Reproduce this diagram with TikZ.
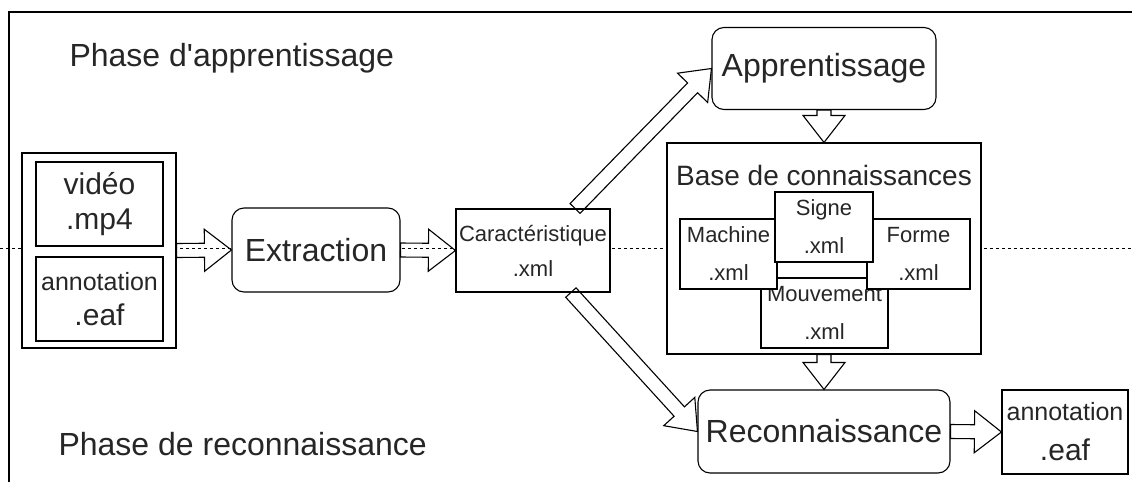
\documentclass[tikz,border=0pt]{standalone}
\usepackage{fontspec}
\setmainfont{Liberation Sans}
\usetikzlibrary{calc}

\newcommand{\bigfont}{\fontsize{32}{38}\selectfont}
\newcommand{\fatarrow}[2]{%
  \draw[fatline] let \p1=(#1), \p2=(#2),
      \n1={atan2(\y2-\y1,\x2-\x1)}, \n2={veclen(\x2-\x1,\y2-\y1)-27} in
    ($(\p1)+(\n1+90:7pt)$) -- ++(\n1:\n2) -- ++(\n1+90:14pt) -- (\p2)
    -- ($(\p1)+(\n1:\n2)+(\n1-90:21pt)$) -- ++(\n1+90:14pt)
    -- ($(\p1)+(\n1-90:7pt)$) -- cycle;}

\begin{document}
\begin{tikzpicture}[x=1pt, y=-1pt,
    box/.style={draw, line width=1.1pt, fill=white, inner sep=0pt, align=center, text=black!85},
    roundbox/.style={box, rounded corners=12pt},
    xmlbox/.style={box, minimum height=70, font=\fontsize{22}{38}\selectfont},
    fatline/.style={draw, line width=1.1pt, line join=miter}]
    \useasboundingbox (0,0) rectangle (1132,482);
    \draw[dashed, line width=0.8pt] (0,248) -- (1132,248);
    \draw[line width=1.6pt] (9,482) -- (9,12) -- (1132,12);
    \node[anchor=base west, font=\bigfont, text=black!85] (phA) at (66,66) {Phase d\textquotesingle apprentissage};
    \node[anchor=base west, font=\bigfont, text=black!85] (phR) at (55,455) {Phase de reconnaissance};

    \node[box, minimum width=154, minimum height=195] (inp) at (99,250.5) {};
    \node[box, minimum width=127, minimum height=84, font=\fontsize{30}{35}\selectfont] (vid) at (99.5,204) {vidéo\\.mp4};
    \node[box, minimum width=127, minimum height=84, font=\fontsize{30}{35}\selectfont] (ann) at (99.5,299) {{\fontsize{25}{35}\selectfont annotation}\\.eaf};
    \node[roundbox, minimum width=168, minimum height=84, font=\bigfont] (ext) at (316,250) {Extraction};
    \node[box, minimum width=154, minimum height=83, font=\fontsize{22}{35}\selectfont] (car) at (533,250.5) {Caractéristique\\.xml};

    \node[roundbox, minimum width=224, minimum height=82, font=\bigfont] (app) at (824,68.5) {Apprentissage};
    \node[box, minimum width=314, minimum height=211] (base) at (824,248.5) {};
    \node[font=\fontsize{28}{34}\selectfont, text=black!85] (basetitle) at (824,175) {Base de connaissances};
    \node[xmlbox, minimum width=127] (mouv) at (824.5,313) {Mouvement\\.xml};
    \node[xmlbox, minimum width=97] (mach) at (728.5,254) {Machine\\.xml};
    \node[xmlbox, minimum width=103] (forme) at (918.5,254) {Forme\\.xml};
    \node[xmlbox, minimum width=98] (sig) at (824,227) {Signe\\.xml};
    \node[roundbox, minimum width=252, minimum height=83, font=\bigfont] (rec) at (824,431.5) {Reconnaissance};
    \node[box, minimum width=126, minimum height=84, font=\fontsize{30}{40}\selectfont] (out) at (1065,432) {{\fontsize{25}{40}\selectfont annotation}\\.eaf};

    \foreach \a/\b in {inp.east/ext.west, ext.east/car.west, car.45/app.west, car.-48/rec.west,
        app.south/base.north, base.south/rec.north, rec.east/out.west}
        \fatarrow{\a}{\b};
\end{tikzpicture}
\end{document}
